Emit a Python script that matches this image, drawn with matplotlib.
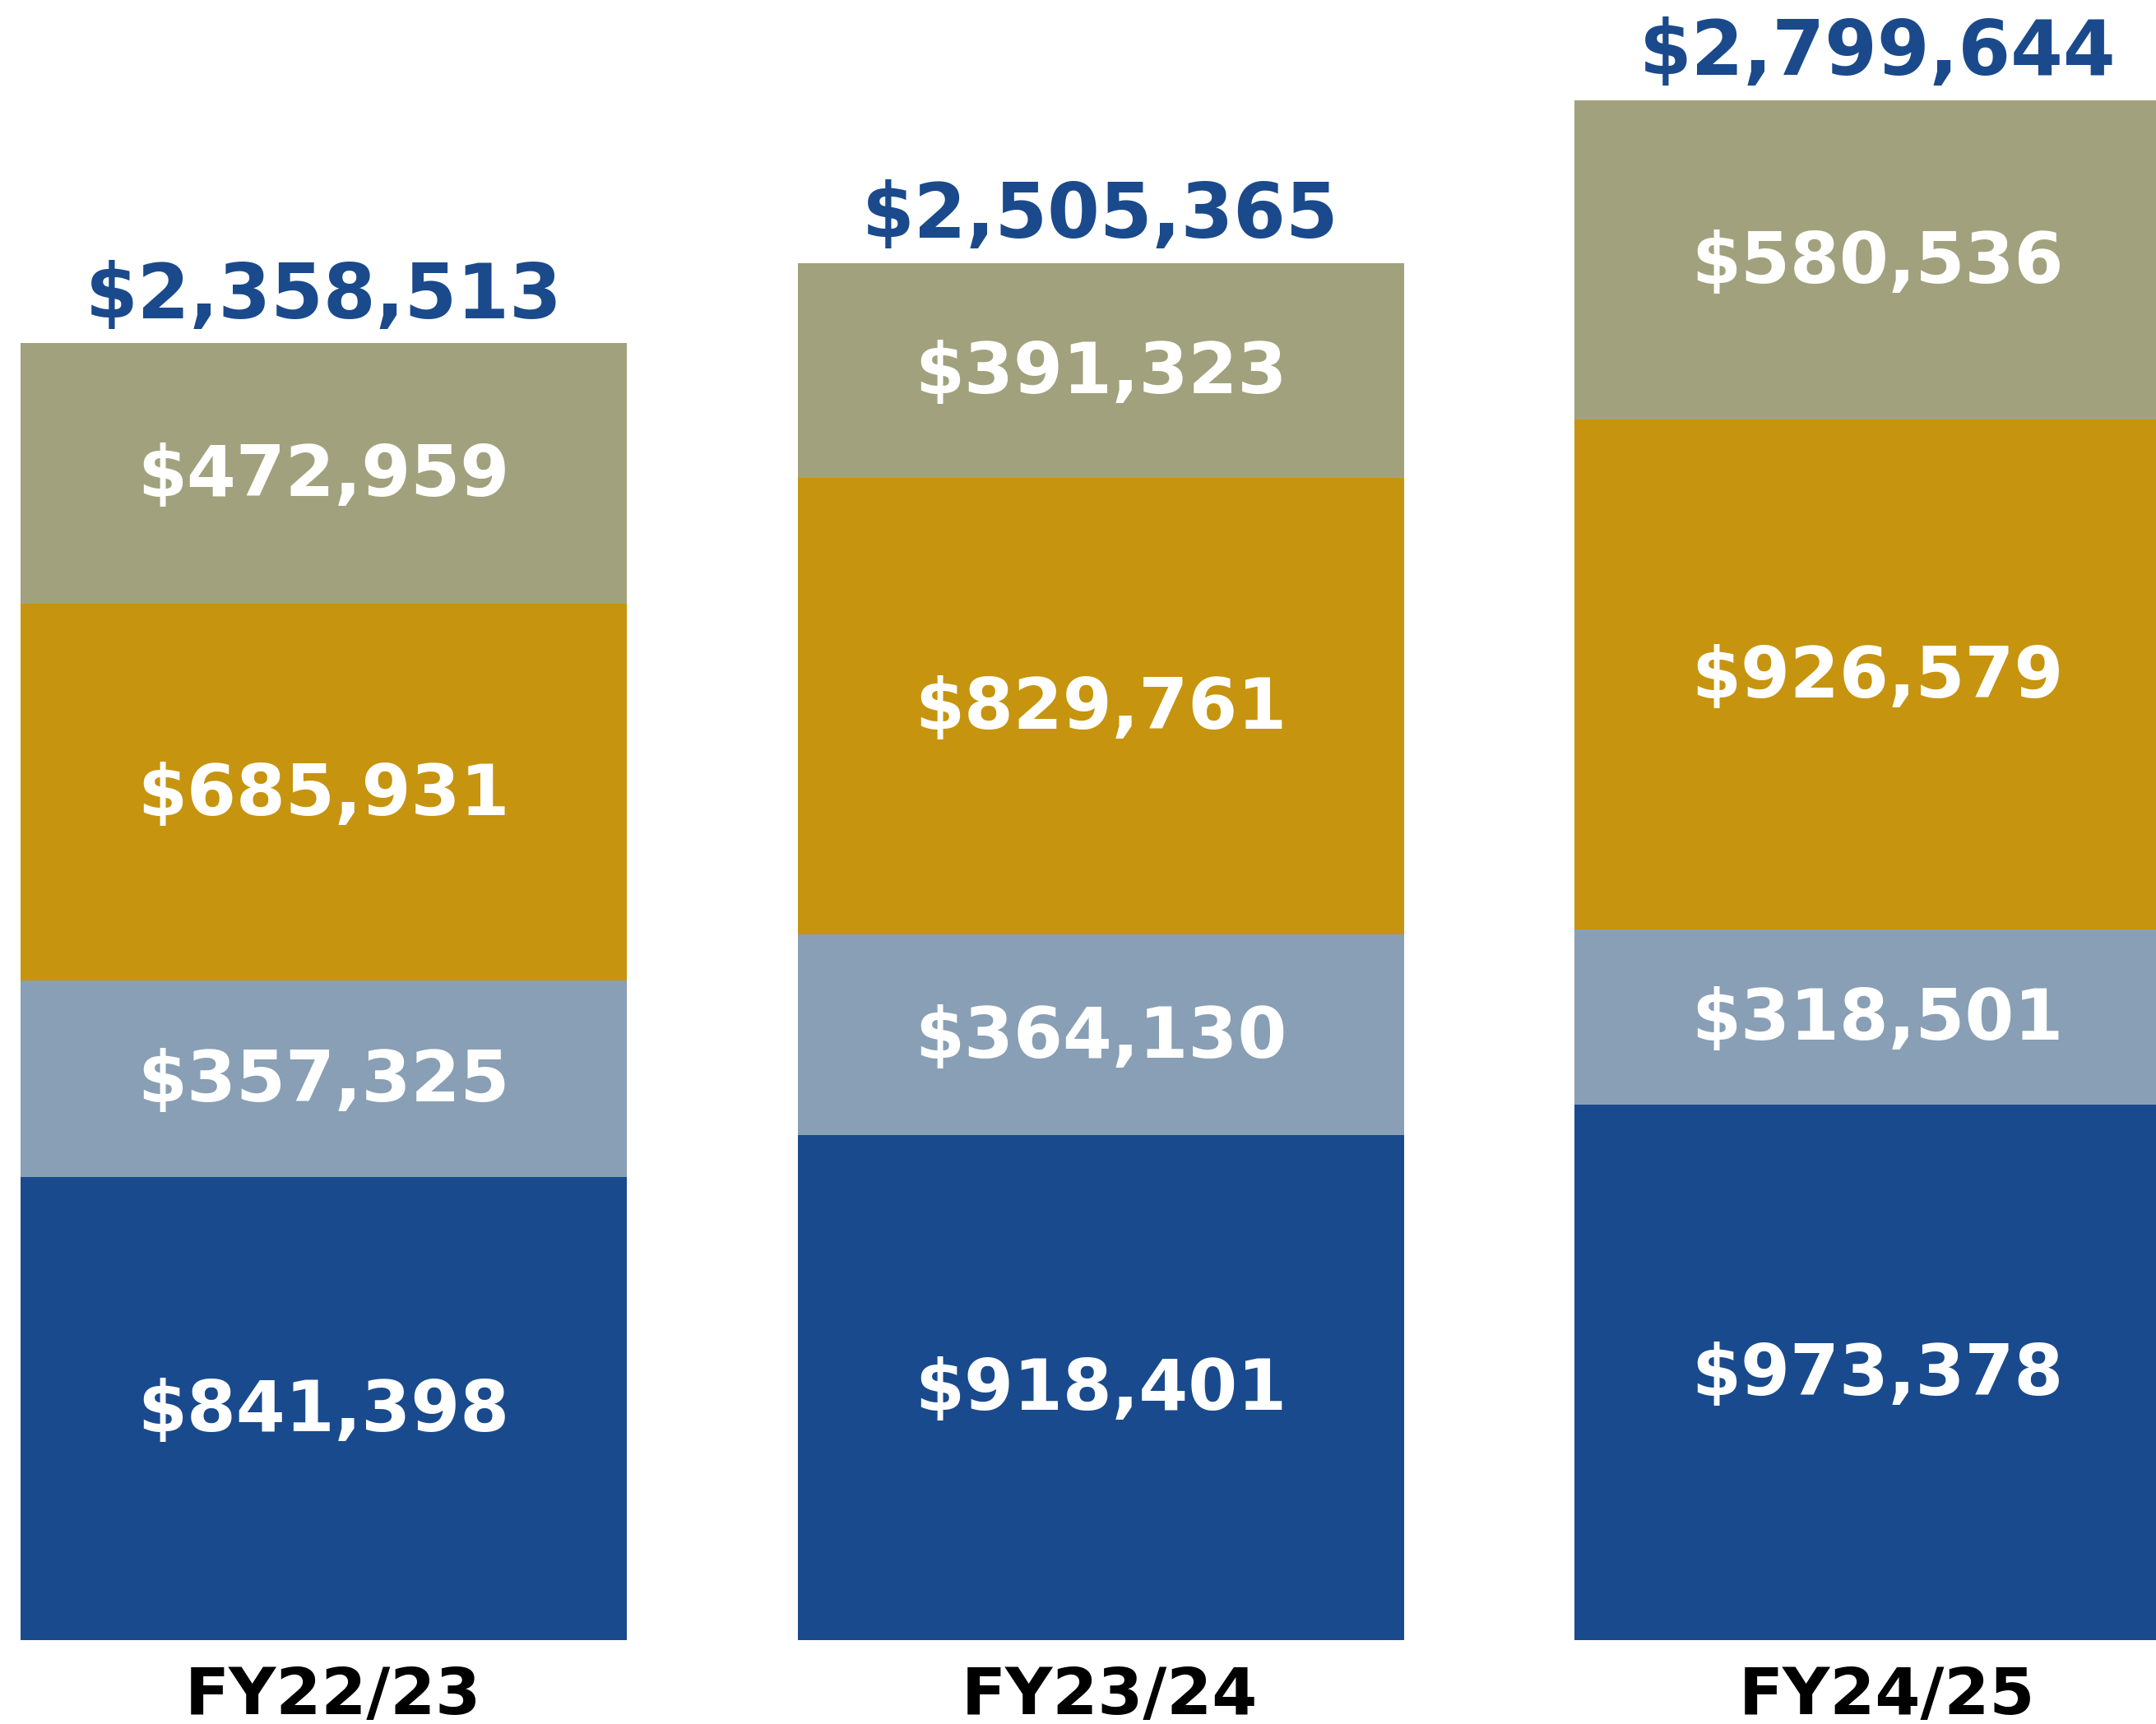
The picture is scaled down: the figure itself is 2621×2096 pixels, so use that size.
import numpy as np
import matplotlib
matplotlib.use('Agg')
import matplotlib.pyplot as plt

plt.rcParams['font.family'] = ['DejaVu Sans']

years = ['FY22/23', 'FY23/24', 'FY24/25']
seg_blue = [841398, 918401, 973378]
seg_light = [357325, 364130, 318501]
seg_gold = [685931, 829761, 926579]
seg_olive = [472959, 391323, 580536]
totals = [2358513, 2505365, 2799644]

colors = ['#194A8D', '#889FB5', '#C6940E', '#A1A27D']
total_color = '#1A4A8C'

fig = plt.figure(figsize=(26.21, 20.96), dpi=100)
ax = fig.add_axes([0, 0.0487, 1, 0.9513])

x = np.arange(len(years))
width = 0.78
bottom = np.zeros(len(years))
for vals, col in zip([seg_blue, seg_light, seg_gold, seg_olive], colors):
    vals = np.array(vals, dtype=float)
    ax.bar(x, vals, width, bottom=bottom, color=col, edgecolor='none')
    for xi, b, v in zip(x, bottom, vals):
        ax.annotate('${:,.0f}'.format(v), xy=(xi, b + v / 2), xytext=(0, -3),
                    textcoords='offset points', ha='center', va='center',
                    color='white', fontsize=62, fontweight='bold')
    bottom += vals

# totals above each bar
for xi, top, t in zip(x, bottom, totals):
    ax.annotate('${:,.0f}'.format(t), xy=(xi, top), xytext=(0, 22),
                textcoords='offset points', ha='center', va='baseline',
                color=total_color, fontsize=66, fontweight='bold')

# category labels under the bars
for xi, lab in zip(x, years):
    ax.annotate(lab, xy=(xi, 0), xytext=(8, -65), textcoords='offset points',
                ha='center', va='baseline', color='black',
                fontsize=57, fontweight='bold', annotation_clip=False)

ax.set_xlim(-0.4166, 2.358)
ax.set_ylim(0, 2981500)
ax.axis('off')

fig.savefig('out.png', dpi=100)
